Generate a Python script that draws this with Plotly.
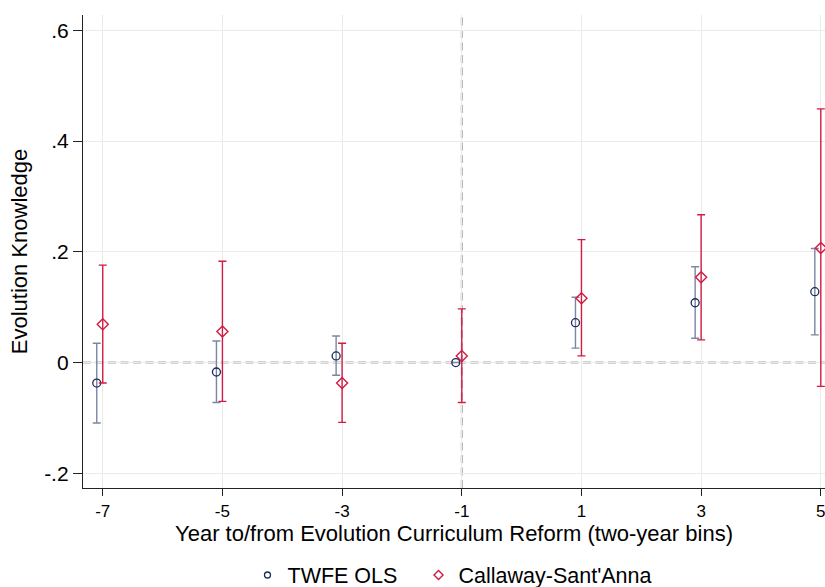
import plotly.graph_objects as go

periods = [-7, -5, -3, -1, 1, 3, 5]
twfe_est = [-0.037, -0.017, 0.012, 0.0, 0.072, 0.108, 0.128]
twfe_hi = [0.035, 0.039, 0.048, 0.0, 0.118, 0.173, 0.206]
twfe_lo = [-0.109, -0.072, -0.023, 0.0, 0.026, 0.044, 0.050]
cs_est = [0.069, 0.056, -0.037, 0.012, 0.116, 0.154, 0.207]
cs_hi = [0.176, 0.183, 0.035, 0.097, 0.222, 0.267, 0.458]
cs_lo = [-0.037, -0.070, -0.108, -0.072, 0.012, 0.041, -0.043]
yticks = [-0.2, 0, 0.2, 0.4, 0.6]
yticklabels = ["-.2", "0", ".2", ".4", ".6"]

offset = 0.1
navy = "#1a2b57"
slate = "#7a87a3"
crimson = "#d01c44"
font = "Liberation Sans, Arial, sans-serif"

fig = go.Figure()

twfe_x = [p - offset for p in periods]
twfe_plus = [h - e for h, e in zip(twfe_hi, twfe_est)]
twfe_minus = [e - l for e, l in zip(twfe_est, twfe_lo)]
fig.add_trace(go.Scatter(
    x=twfe_x, y=twfe_est, mode="markers", name="TWFE OLS", showlegend=False,
    marker=dict(symbol="circle-open", size=8, color=navy, line=dict(width=1.3)),
    error_y=dict(type="data", symmetric=False, array=twfe_plus, arrayminus=twfe_minus,
                 color=slate, thickness=1.4, width=4),
))

cs_plus = [h - e for h, e in zip(cs_hi, cs_est)]
cs_minus = [e - l for e, l in zip(cs_est, cs_lo)]
fig.add_trace(go.Scatter(
    x=periods, y=cs_est, mode="markers", name="Callaway-Sant'Anna", showlegend=False,
    marker=dict(symbol="diamond-open", size=8.5, color=crimson, line=dict(width=1.4)),
    error_y=dict(type="data", symmetric=False, array=cs_plus, arrayminus=cs_minus,
                 color=crimson, thickness=1.4, width=4),
))

# legend entries (smaller symbols as in the reference)
fig.add_trace(go.Scatter(
    x=[None], y=[None], mode="markers", name="TWFE OLS", legend="legend",
    marker=dict(symbol="circle-open", size=6, color=navy, line=dict(width=1.3)),
))
fig.add_trace(go.Scatter(
    x=[None], y=[None], mode="markers", name="Callaway-Sant'Anna", legend="legend2",
    marker=dict(symbol="diamond-open", size=7, color=crimson, line=dict(width=1.4)),
))

fig.add_hline(y=0, line=dict(color="#a6a6a6", width=2, dash="8px,4.5px"), layer="below")
fig.add_vline(x=-1, line=dict(color="#a6a6a6", width=2, dash="8px,4.5px"), layer="below")

legend_common = dict(orientation="h", xanchor="left", y=-0.184, yanchor="middle",
                     font=dict(size=21.5), itemwidth=30, tracegroupgap=0)

fig.update_layout(
    width=825, height=587,
    margin=dict(l=83, r=0, t=15, b=99, autoexpand=False),
    paper_bgcolor="white", plot_bgcolor="white",
    font=dict(family=font, size=18, color="#000000"),
    showlegend=True,
    legend=dict(x=0.2217, **legend_common),
    legend2=dict(x=0.4522, **legend_common),
    xaxis=dict(
        range=[-7.33, 5.07], tickvals=periods, ticktext=[str(p) for p in periods],
        showgrid=True, gridcolor="#ebebeb", gridwidth=1.3,
        showline=True, linecolor="#222222", linewidth=1.3,
        ticks="outside", ticklen=7, tickcolor="#222222", tickwidth=1.2,
        zeroline=False, tickfont=dict(size=17), ticklabeloverflow="allow",
        automargin=False,
        title=dict(text="Year to/from Evolution Curriculum Reform (two-year bins)",
                   font=dict(size=22), standoff=2),
    ),
    yaxis=dict(
        range=[-0.2265, 0.6276], tickvals=yticks, ticktext=yticklabels,
        showgrid=True, gridcolor="#ebebeb", gridwidth=1.3,
        showline=True, linecolor="#222222", linewidth=1.3,
        ticks="outside", ticklen=9, tickcolor="#222222", tickwidth=1.2,
        zeroline=False, tickfont=dict(size=21), automargin=False,
        title=dict(text="Evolution Knowledge", font=dict(size=22), standoff=10),
    ),
)

fig.write_html("out.html")
